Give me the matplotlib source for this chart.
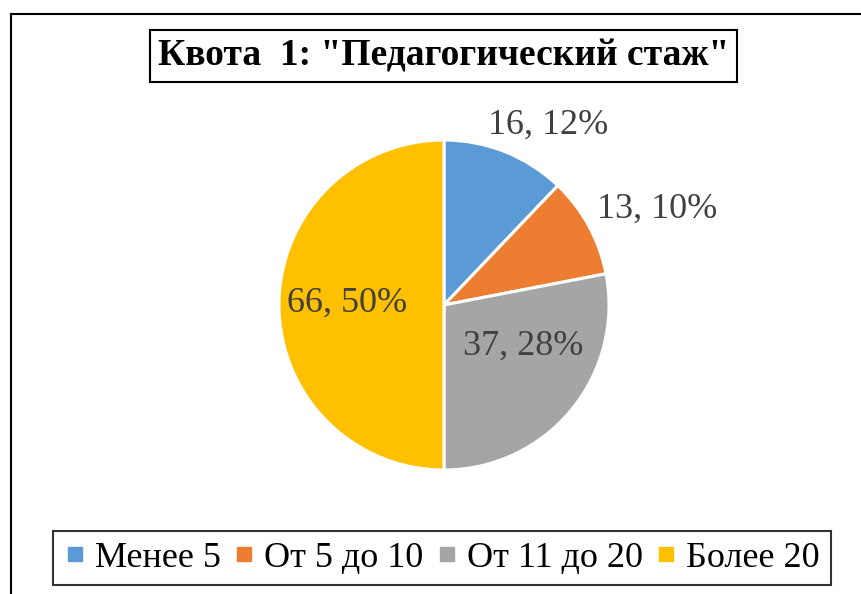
import matplotlib
matplotlib.use('Agg')
import matplotlib.pyplot as plt
from matplotlib.lines import Line2D

plt.rcParams['font.family'] = ['Liberation Serif', 'DejaVu Serif']

# данные
kategorii = ['Менее 5', 'От 5 до 10', 'От 11 до 20', 'Более 20']
znacheniya = [16, 13, 37, 66]
cveta = ['#5B9BD5', '#ED7D31', '#A5A5A5', '#FFC000']
# положение подписей (в радиусах круга)
pozicii_podpisei = [(0.63, 1.09), (1.29, 0.58), (0.48, -0.25), (-0.59, 0.01)]

W, H = 862, 594
fig = plt.figure(figsize=(W / 100, H / 100), dpi=100)

# круг: центр (444, 305) пикс., радиус 165
cx, cy, r = 444, 305, 165
ax = fig.add_axes([(cx - r) / W, (H - cy - r) / H, 2 * r / W, 2 * r / H])
wedges, _ = ax.pie(znacheniya, colors=cveta, startangle=90, counterclock=False,
                   radius=1, wedgeprops=dict(edgecolor='white', linewidth=2.2))
ax.set_xlim(-1, 1)
ax.set_ylim(-1, 1)
ax.set_aspect('equal')
ax.axis('off')

vsego = sum(znacheniya)
for v, (px, py) in zip(znacheniya, pozicii_podpisei):
    ax.text(px, py, '%d, %d%%' % (v, round(v * 100 / vsego)), ha='center', va='center',
            fontsize=26, color='#404040', clip_on=False)

# заголовок в рамке
fig.text(443.5 / W, 1 - 56 / H, 'Квота  1: "Педагогический стаж"', ha='center', va='center',
         fontsize=27, fontweight='bold', color='black',
         bbox=dict(boxstyle='square,pad=0.22', facecolor='white', edgecolor='black', linewidth=1.5))

# легенда
handles = [Line2D([], [], marker='s', linestyle='none', markersize=10, color=c) for c in cveta]
leg = fig.legend(handles, kategorii, loc='center', bbox_to_anchor=(442 / W, 1 - 558 / H),
                 ncol=4, fontsize=26, frameon=True, fancybox=False, handlelength=0.6,
                 handletextpad=0.25, columnspacing=0.35, borderpad=0.3, borderaxespad=0)
leg.get_frame().set_edgecolor('black')
leg.get_frame().set_linewidth(1.5)

# рамка области диаграммы (видны только левая и верхняя стороны)
x0 = 11 / W
y0 = 1 - 14 / H
fig.add_artist(Line2D([x0, x0], [0, y0], color='black', linewidth=1.5, transform=fig.transFigure))
fig.add_artist(Line2D([x0, 1], [y0, y0], color='black', linewidth=1.5, transform=fig.transFigure))

fig.savefig('out.png', dpi=100, facecolor='white')
